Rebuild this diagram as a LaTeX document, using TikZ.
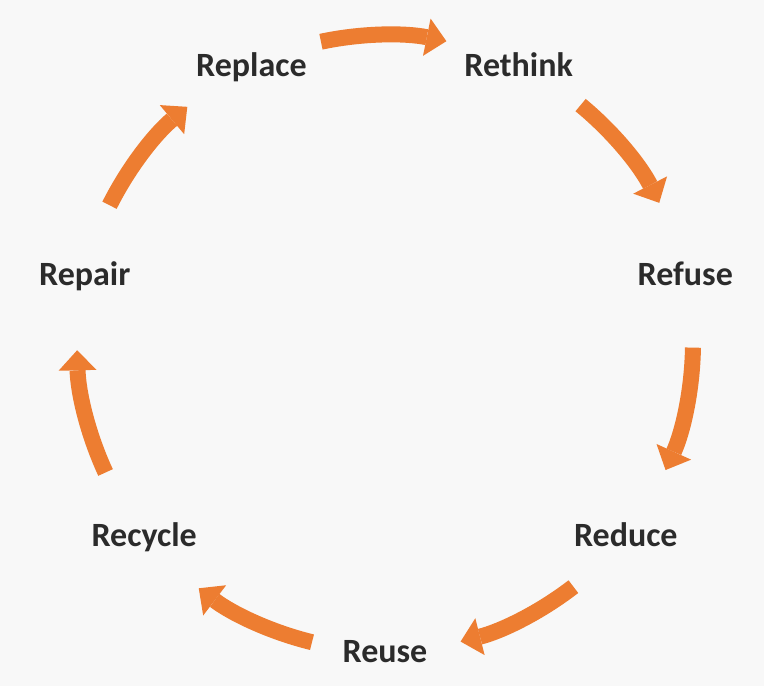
\documentclass[tikz,border=0pt]{standalone}
\usepackage{fontspec}
\setmainfont{Carlito}
\usepackage{xcolor}
\usetikzlibrary{arrows.meta}

\definecolor{cycleorange}{HTML}{ED7D31}
\definecolor{labelgray}{HTML}{2B2B2B}
\definecolor{paper}{HTML}{F8F8F8}

\begin{document}
\begin{tikzpicture}[x=1pt,y=1pt,
    rlabel/.style={text=labelgray,font=\fontsize{34}{40}\selectfont\bfseries,
        inner sep=0pt,text height=22pt,text depth=0pt},
    cyclearrow/.style={cycleorange,line width=16pt,
        -{Triangle[width=38pt,length=20pt,line width=0pt]}}]

        \fill[paper] (-385,-343) rectangle (379,343);

        % labels round the cycle
        \node[rlabel] (replace) at (115.71:308) {Replace};
        \node[rlabel] (rethink) at (64.29:308) {Rethink};
        \node[rlabel] (refuse) at (12.86:308) {Refuse};
        \node[rlabel] (reduce) at (-38.57:308) {Reduce};
        \node[rlabel] (reuse) at (-90:308) {Reuse};
        \node[rlabel] (recycle) at (-141.43:308) {Recycle};
        \node[rlabel] (repair) at (-192.86:308) {Repair};

        % arrow tails
        \coordinate (tail1) at (102:308);
        \coordinate (tail2) at (50.57:308);
        \coordinate (tail3) at (-0.86:308);
        \coordinate (tail4) at (-52.29:308);
        \coordinate (tail5) at (-103.71:308);
        \coordinate (tail6) at (-155.14:308);
        \coordinate (tail7) at (-206.57:308);

        \draw[cyclearrow] (tail1) arc[start angle=102,end angle=78.5,radius=308];
        \draw[cyclearrow] (tail2) arc[start angle=50.57,end angle=27.07,radius=308];
        \draw[cyclearrow] (tail3) arc[start angle=-0.86,end angle=-24.36,radius=308];
        \draw[cyclearrow] (tail4) arc[start angle=-52.29,end angle=-75.79,radius=308];
        \draw[cyclearrow] (tail5) arc[start angle=-103.71,end angle=-127.21,radius=308];
        \draw[cyclearrow] (tail6) arc[start angle=-155.14,end angle=-178.64,radius=308];
        \draw[cyclearrow] (tail7) arc[start angle=-206.57,end angle=-230.07,radius=308];

\end{tikzpicture}
\end{document}
